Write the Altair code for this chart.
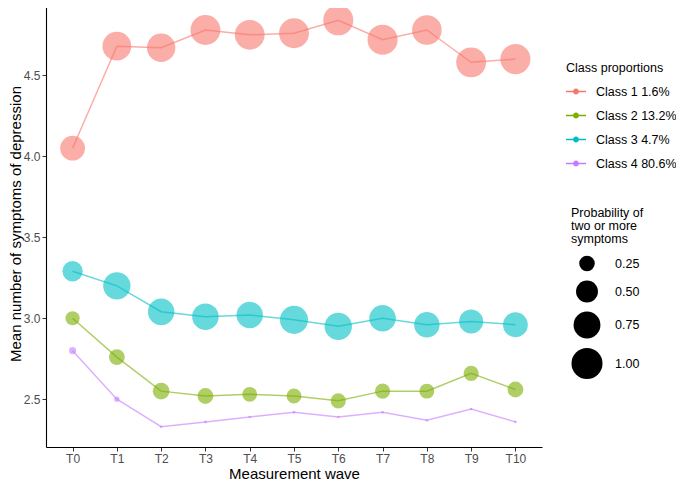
import altair as alt
import pandas as pd

waves = ["T0", "T1", "T2", "T3", "T4", "T5", "T6", "T7", "T8", "T9", "T10"]
classes = ["Class 1 1.6%", "Class 2 13.2%", "Class 3 4.7%", "Class 4 80.6%"]
colors = ["#F8766D", "#7CAE00", "#00BFC4", "#C77CFF"]

mean_c1 = [4.05, 4.68, 4.67, 4.78, 4.75, 4.76, 4.84, 4.72, 4.78, 4.58, 4.60]
mean_c2 = [3.00, 2.76, 2.55, 2.52, 2.53, 2.52, 2.49, 2.55, 2.55, 2.66, 2.56]
mean_c3 = [3.29, 3.20, 3.04, 3.01, 3.02, 2.99, 2.95, 3.00, 2.96, 2.98, 2.96]
mean_c4 = [2.80, 2.50, 2.33, 2.36, 2.39, 2.42, 2.39, 2.42, 2.37, 2.44, 2.36]

prob_c1 = [0.64, 0.86, 0.84, 0.93, 0.92, 0.93, 0.94, 0.94, 0.91, 0.93, 0.94]
prob_c2 = [0.21, 0.26, 0.29, 0.26, 0.23, 0.23, 0.24, 0.24, 0.23, 0.24, 0.26]
prob_c3 = [0.43, 0.78, 0.73, 0.73, 0.73, 0.82, 0.78, 0.73, 0.67, 0.60, 0.64]
prob_c4 = [0.052, 0.029, 0.007, 0.007, 0.007, 0.007, 0.007, 0.007, 0.007, 0.007, 0.007]

size_legend_values = [0.25, 0.50, 0.75, 1.00]
y_ticks = [2.5, 3.0, 3.5, 4.0, 4.5]

means = [mean_c1, mean_c2, mean_c3, mean_c4]
probs = [prob_c1, prob_c2, prob_c3, prob_c4]
rows = []
for c, m, p in zip(classes, means, probs):
    for w, mv, pv in zip(waves, m, p):
        rows.append({"wave": w, "cls": c, "mean": mv, "prob": pv})
df = pd.DataFrame(rows)

FONT = "Liberation Sans"
PLOT_LEFT = 46

x_enc = alt.X(
    "wave:O",
    scale=alt.Scale(type="point", domain=waves, padding=0.6),
    axis=alt.Axis(
        title="Measurement wave", titleFontSize=15, titleFontWeight="normal",
        titleColor="black", titleFont=FONT, titleY=31, titleBaseline="alphabetic",
        labelFont=FONT, labelFontSize=12, labelColor="#4D4D4D", labelAngle=0,
        labelPadding=2, tickSize=4, tickColor="#333333", domainColor="black",
        domainWidth=1.1, grid=False,
    ),
)
y_enc = alt.Y(
    "mean:Q",
    scale=alt.Scale(domain=[2.205, 4.965], nice=False, zero=False),
    axis=alt.Axis(
        title="Mean number of symptoms of depression", titleFontSize=15,
        titleFontWeight="normal", titleColor="black", titleFont=FONT,
        titleX=-23, titleBaseline="bottom",
        values=y_ticks, format=".1f", labelFont=FONT, labelFontSize=12,
        labelColor="#4D4D4D", labelPadding=2, tickSize=4, tickColor="#333333",
        domainColor="black", domainWidth=1.1, grid=False,
    ),
)
color_scale = alt.Scale(domain=classes, range=colors)

line_sym = ("M-1,-0.07L-0.3,-0.07L-0.3,0.07L-1,0.07Z "
            "M0.3,-0.07L1,-0.07L1,0.07L0.3,0.07Z "
            "M-0.3,0A0.3,0.3 0 1,0 0.3,0A0.3,0.3 0 1,0 -0.3,0Z")

points = alt.Chart(df).mark_circle(opacity=0.6).encode(
    x=x_enc,
    y=y_enc,
    color=alt.Color(
        "cls:N", scale=color_scale,
        legend=alt.Legend(
            title="Class proportions", orient="none",
            legendX=566 - PLOT_LEFT, legendY=62,
            symbolType=line_sym, symbolSize=400, symbolOpacity=1,
            symbolStrokeWidth=0, titleFont=FONT, titleFontSize=12.5,
            titleFontWeight="normal", titleColor="black", titlePadding=7,
            labelFont=FONT, labelFontSize=12.5, labelColor="black",
            labelOffset=10, rowPadding=7, padding=0,
        ),
    ),
    size=alt.Size(
        "prob:Q",
        scale=alt.Scale(domain=[0, 1], range=[0, 962], zero=True),
        legend=alt.Legend(
            title=["Probability of", "two or more", "symptoms"],
            orient="none", legendX=571 - PLOT_LEFT, legendY=207,
            values=size_legend_values, format=".2f",
            symbolFillColor="black", symbolStrokeWidth=0, symbolOpacity=1,
            titleFont=FONT, titleFontSize=12.5, titleFontWeight="normal",
            titleColor="black", titleLineHeight=13, titlePadding=10,
            labelFont=FONT, labelFontSize=12.5, labelColor="black",
            labelOffset=12, rowPadding=9, padding=0,
        ),
    ),
)

lines = alt.Chart(df).mark_line(opacity=0.6, strokeWidth=1.5).encode(
    x=x_enc,
    y=y_enc,
    color=alt.Color("cls:N", scale=color_scale, legend=None),
)

chart = alt.layer(points, lines).properties(
    width=496,
    height=447,
    autosize=alt.AutoSizeParams(type="none"),
    padding={"left": PLOT_LEFT - 8, "top": -8, "right": 134, "bottom": 42},
).configure(background="white").configure_view(stroke=None)

chart.save("out.html", embed_options={"renderer": "svg", "actions": False})
